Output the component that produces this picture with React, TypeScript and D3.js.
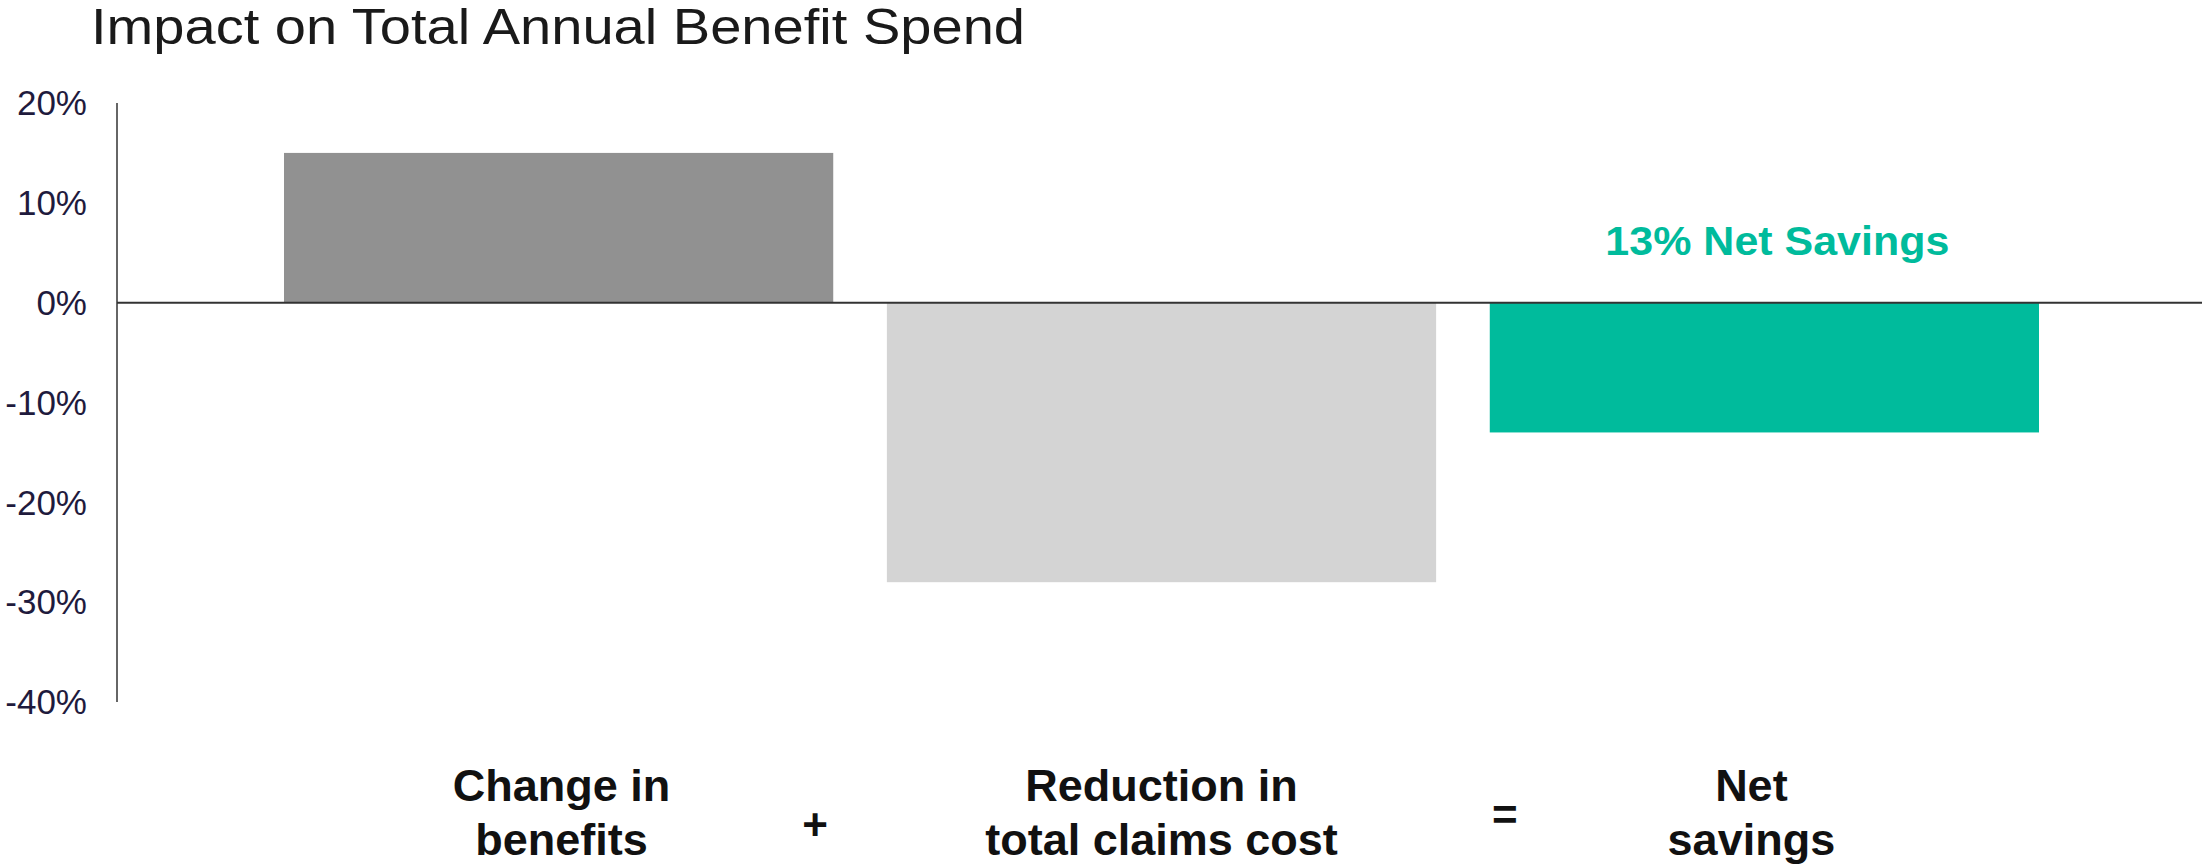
import React from "react";
import * as d3 from "d3";

const categories = ["Change in benefits", "Reduction in total claims cost", "Net savings"];
const categoryLines = [["Change in", "benefits"], ["Reduction in", "total claims cost"], ["Net", "savings"]];
const values = [15, -28, -13];
const barColors = ["#919191", "#d4d4d4", "#00bb9c"];
const operators = ["+", "="];
const yTicks = [20, 10, 0, -10, -20, -30, -40];
const title = "Impact on Total Annual Benefit Spend";
const annotation = "13% Net Savings";

const W = 2202;
const H = 865;

export default function App() {
  const y = d3.scaleLinear().domain([-40, 20]).range([702, 103]);
  const x = d3.scaleBand<string>().domain(categories).range([284, 2039]).paddingInner(0.089).paddingOuter(0);
  const axisX = 117;
  const font = "'Liberation Sans', Arial, Helvetica, sans-serif";
  const bw = x.bandwidth();
  const labelShift = [3, 0, -13];
  const opShift = [-45, 42];
  return (
    <svg width={W} height={H} style={{ position: "absolute", left: 0, top: 0, background: "#fff" }} fontFamily={font}>
      <text x={91} y={44} fontSize={50} fill="#1a1a1a" textLength={934} lengthAdjust="spacingAndGlyphs">
        {title}
      </text>
      {yTicks.map((t) => (
        <text key={t} x={87} y={y(t)} dy="0.35em" textAnchor="end" fontSize={35} fill="#1f1b3d">
          {String(t) + "%"}
        </text>
      ))}
      {categories.map((c, i) => {
        const v = values[i];
        return (
          <rect
            key={c}
            x={x(c)}
            width={bw}
            y={y(Math.max(0, v))}
            height={Math.abs(y(v) - y(0))}
            fill={barColors[i]}
          />
        );
      })}
      <line x1={axisX} x2={axisX} y1={y(20)} y2={y(-40)} stroke="#333" strokeWidth={1.5} />
      <line x1={axisX} x2={W} y1={y(0)} y2={y(0)} stroke="#333" strokeWidth={2} />
      <text
        x={(x(categories[2]) as number) + bw / 2 + 13}
        y={255}
        textAnchor="middle"
        fontSize={41}
        fontWeight="bold"
        fill="#00bb9c"
        textLength={344}
        lengthAdjust="spacingAndGlyphs"
      >
        {annotation}
      </text>
      {categories.map((c, i) => (
        <text key={c} textAnchor="middle" fontSize={45} fontWeight="bold" fill="#111">
          {categoryLines[i].map((l, j) => (
            <tspan key={j} x={(x(c) as number) + bw / 2 + labelShift[i]} y={801 + j * 54}>
              {l}
            </tspan>
          ))}
        </text>
      ))}
      {operators.map((op, i) => {
        const gapMid = ((x(categories[i]) as number) + bw + (x(categories[i + 1]) as number)) / 2;
        return (
          <text key={op} x={gapMid + opShift[i]} y={i === 0 ? 840 : 830} textAnchor="middle" fontSize={44} fontWeight="bold" fill="#111">
            {op}
          </text>
        );
      })}
    </svg>
  );
}
